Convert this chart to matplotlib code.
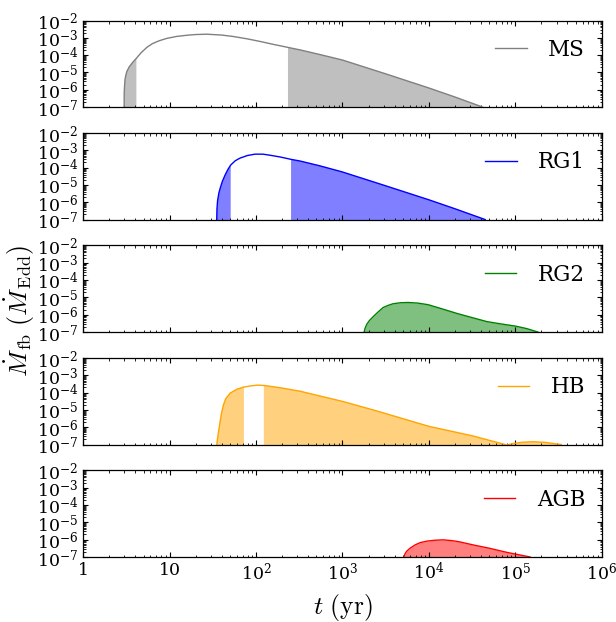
import numpy as np
import matplotlib
matplotlib.use("Agg")
import matplotlib.pyplot as plt
from matplotlib.ticker import FuncFormatter, LogLocator

plt.rcParams['font.family'] = 'serif'
plt.rcParams['font.serif'] = ['DejaVu Serif']
plt.rcParams['mathtext.fontset'] = 'cm'
plt.rcParams['xtick.direction'] = 'in'
plt.rcParams['ytick.direction'] = 'in'
plt.rcParams['xtick.top'] = True
plt.rcParams['ytick.right'] = True
plt.rcParams['xtick.major.size'] = 3.5
plt.rcParams['ytick.major.size'] = 3.5
plt.rcParams['xtick.minor.size'] = 1.8
plt.rcParams['ytick.minor.size'] = 1.8
plt.rcParams['axes.linewidth'] = 0.9

# fallback rate curves, t in yr, Mdot in Eddington units
ms_t = [2.98, 2.985, 3.01, 3.05, 3.13, 3.20, 3.39, 3.72, 4.13, 4.68, 5.45, 6.31, 7.59, 9.29,
        12.0, 15.8, 20.0, 26.9, 39.8, 54.2, 79.4, 111, 158, 234, 324, 562, 1000, 3160,
        10000, 20000, 41700]
ms_m = [1e-7, 6.3e-7, 1.58e-6, 3.98e-6, 7.6e-6, 1.12e-5, 2.0e-5, 3.7e-5, 6.6e-5, 1.38e-4,
        2.8e-4, 4.6e-4, 6.8e-4, 9.3e-4, 1.2e-3, 1.41e-3, 1.55e-3, 1.62e-3, 1.45e-3,
        1.2e-3, 8.7e-4, 6.2e-4, 4.2e-4, 2.8e-4, 2.0e-4, 1.05e-4, 5.2e-5, 8.3e-6, 1.26e-6,
        3.8e-7, 1e-7]
ms_gap = [4.13, 234]

rg1_t = [35.1, 35.3, 35.9, 37.2, 38.4, 40.7, 43.9, 47.3, 50.9, 57.5, 65.3, 79.4, 97.3, 120,
         145, 191, 254, 324, 550, 1000, 3160, 10000, 20000, 44700]
rg1_m = [1e-7, 4.0e-7, 1.26e-6, 3.5e-6, 6.3e-6, 1.58e-5, 3.8e-5, 7.9e-5, 1.41e-4, 2.5e-4,
         3.55e-4, 5.0e-4, 6.0e-4, 6.0e-4, 5.2e-4, 4.1e-4, 3.0e-4, 2.4e-4, 1.26e-4, 5.6e-5,
         8.9e-6, 1.38e-6, 4.2e-7, 1e-7]
rg1_gap = [50.9, 254]

rg2_t = [1780, 1820, 1910, 2040, 2260, 2570, 2950, 3390, 3850, 4680, 5750, 7410, 9770,
         14100, 20900, 31600, 46800, 67600, 100000, 135000, 182000]
rg2_m = [1e-7, 1.58e-7, 2.8e-7, 4.5e-7, 7.6e-7, 1.41e-6, 2.6e-6, 3.5e-6, 4.3e-6, 4.9e-6,
         5.1e-6, 4.7e-6, 3.8e-6, 2.2e-6, 1.2e-6, 6.8e-7, 4.0e-7, 2.95e-7, 2.2e-7, 1.58e-7,
         1e-7]
rg2_gap = None

hb_t = [35.1, 36.7, 38.4, 39.8, 41.9, 44.7, 50.1, 60.3, 72.4, 87.1, 105, 123, 191, 324,
        457, 1000, 2450, 10000, 31600, 66100, 79400, 93300, 120000, 162000, 224000, 282000,
        339000]
hb_m = [1e-7, 5.0e-7, 2.1e-6, 6.3e-6, 1.9e-5, 4.5e-5, 9.3e-5, 1.58e-4, 2.1e-4, 2.45e-4,
        2.7e-4, 2.6e-4, 1.9e-4, 1.2e-4, 7.9e-5, 3.1e-5, 8.9e-6, 1.12e-6, 3.2e-7, 1.2e-7,
        9.3e-8, 1.12e-7, 1.35e-7, 1.45e-7, 1.32e-7, 1.12e-7, 1e-7]
hb_gap = [72.4, 123]

agb_t = [5130, 5250, 5500, 6030, 6920, 7940, 9550, 11700, 14600, 18200, 22400, 32400, 50100,
         79400, 112000, 148000]
agb_m = [1e-7, 1.41e-7, 2.1e-7, 3.2e-7, 5.0e-7, 6.8e-7, 8.3e-7, 9.3e-7, 9.8e-7, 8.9e-7,
         7.6e-7, 5.0e-7, 3.2e-7, 1.86e-7, 1.32e-7, 1e-7]
agb_gap = None

names = ['MS', 'RG1', 'RG2', 'HB', 'AGB']
colors = ['gray', 'b', 'g', 'orange', 'r']
curves = [(ms_t, ms_m, ms_gap), (rg1_t, rg1_m, rg1_gap), (rg2_t, rg2_m, rg2_gap),
          (hb_t, hb_m, hb_gap), (agb_t, agb_m, agb_gap)]


def xfmt(v, pos):
    e = int(round(np.log10(v)))
    if e == 0:
        return '1'
    if e == 1:
        return '10'
    return r'$\mathdefault{10^{%d}}$' % e


fig, axes = plt.subplots(5, 1, figsize=(6.16, 6.22), dpi=100, sharex=True)
fig.subplots_adjust(left=0.135, right=0.977, top=0.967, bottom=0.1045, hspace=0.30)

for ax, name, col, (t, m, gap) in zip(axes, names, colors, curves):
    t = np.array(t)
    m = np.array(m)
    ax.plot(t, m, color=col, lw=1.0, label=name)
    if gap is None:
        mask = np.ones(len(t), dtype=bool)
    else:
        mask = (t <= gap[0]) | (t >= gap[1])
    ax.fill_between(t, m, 1e-9, where=mask, color=col, alpha=0.5, lw=0)
    ax.set_xscale('log')
    ax.set_yscale('log')
    ax.set_xlim(1, 1e6)
    ax.set_ylim(1e-7, 1e-2)
    ax.yaxis.set_major_locator(LogLocator(base=10, numticks=10))
    ax.yaxis.set_minor_locator(LogLocator(base=10, subs=np.arange(2, 10), numticks=20))
    ax.tick_params(labelsize=12.5)
    ax.legend(loc='center right', bbox_to_anchor=(1.005, 0.66), frameon=False, fontsize=15.5,
              handlelength=1.45, handletextpad=1.0)

axes[-1].xaxis.set_major_formatter(FuncFormatter(xfmt))

fig.text(0.032, 0.50, r'$\dot M_{\rm fb}\ (\dot M_{\rm Edd})$', rotation=90,
         ha='center', va='center', fontsize=18.5)
fig.text(0.556, 0.024, r'$t\ (\rm yr)$', ha='center', va='center', fontsize=18.5)

fig.savefig('out.png', dpi=100)
